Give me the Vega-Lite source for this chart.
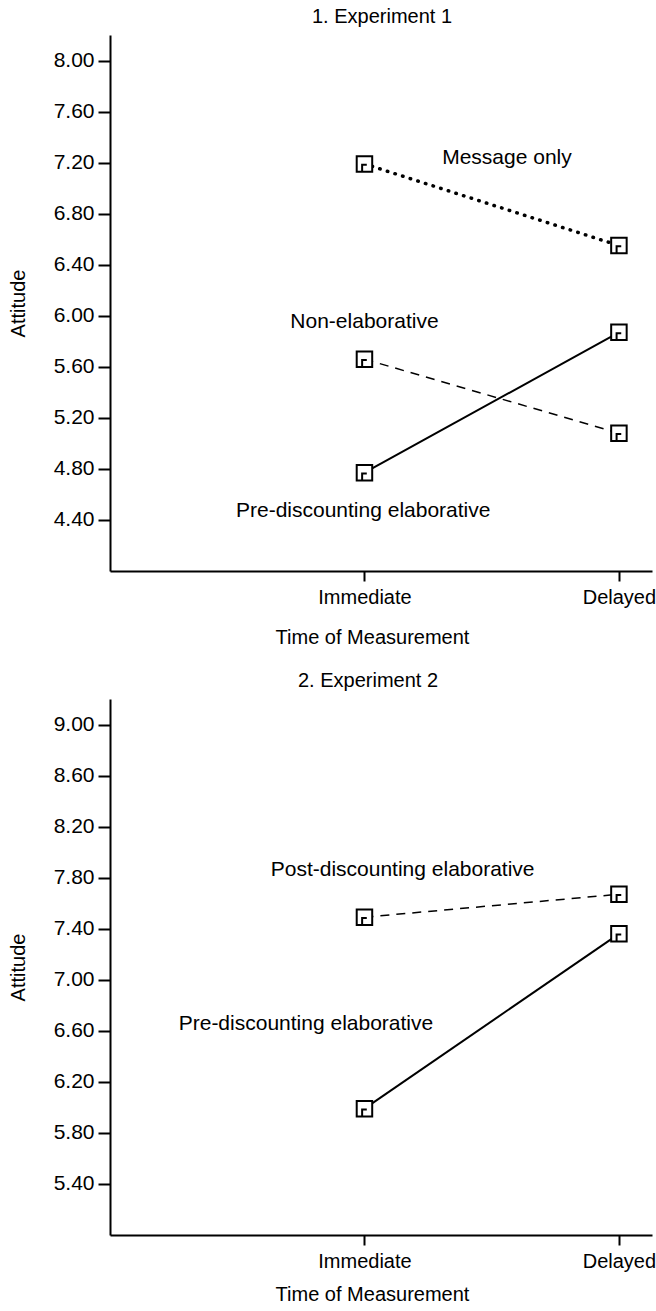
{
  "$schema": "https://vega.github.io/schema/vega-lite/v6.json",
  "background": "white",
  "padding": {"left": 8, "top": 7, "right": 0, "bottom": 0},
  "spacing": 24,
  "config": {
    "font": "Liberation Sans",
    "view": {"stroke": null},
    "axis": {
      "domainColor": "black", "domainWidth": 2, "tickColor": "black", "tickWidth": 2,
      "labelColor": "black", "titleColor": "black", "labelFontSize": 21, "titleFontSize": 20,
      "titleFontWeight": "normal", "grid": false, "labelFont": "Liberation Sans", "titleFont": "Liberation Sans"
    },
    "title": {"fontSize": 20, "fontWeight": "normal", "anchor": "start", "frame": "group", "color": "black", "font": "Liberation Sans", "offset": 8}
  },
  "datasets": {
    "points": [
      {"panel": 1, "condition": "Message only", "time": 1, "attitude": 7.19},
      {"panel": 1, "condition": "Message only", "time": 2, "attitude": 6.55},
      {"panel": 1, "condition": "Non-elaborative", "time": 1, "attitude": 5.66},
      {"panel": 1, "condition": "Non-elaborative", "time": 2, "attitude": 5.08},
      {"panel": 1, "condition": "Pre-discounting elaborative", "time": 1, "attitude": 4.77},
      {"panel": 1, "condition": "Pre-discounting elaborative", "time": 2, "attitude": 5.87},
      {"panel": 2, "condition": "Post-discounting elaborative", "time": 1, "attitude": 7.49},
      {"panel": 2, "condition": "Post-discounting elaborative", "time": 2, "attitude": 7.67},
      {"panel": 2, "condition": "Pre-discounting elaborative", "time": 1, "attitude": 5.99},
      {"panel": 2, "condition": "Pre-discounting elaborative", "time": 2, "attitude": 7.36}
    ],
    "labels": [
      {"panel": 1, "label": "Message only", "lx": 1.56, "ly": 7.24},
      {"panel": 1, "label": "Non-elaborative", "lx": 1.0, "ly": 5.95},
      {"panel": 1, "label": "Pre-discounting elaborative", "lx": 0.995, "ly": 4.47},
      {"panel": 2, "label": "Post-discounting elaborative", "lx": 1.15, "ly": 7.86},
      {"panel": 2, "label": "Pre-discounting elaborative", "lx": 0.77, "ly": 6.65}
    ]
  },
  "vconcat": [
    {
      "width": 542,
      "height": 536,
      "title": {"text": "1. Experiment 1", "dx": 202},
      "encoding": {
        "x": {"field": "time", "type": "quantitative",
              "scale": {"domain": [0, 2.13], "nice": false, "zero": false},
              "axis": {"values": [1, 2], "labelExpr": "datum.value == 1 ? 'Immediate' : 'Delayed'",
                       "labelFontSize": 20, "tickSize": 10, "labelPadding": 6, "labelFlush": false,
                       "title": "Time of Measurement", "titlePadding": 20, "titleX": 262}},
        "y": {"field": "attitude", "type": "quantitative",
              "scale": {"domain": [4, 8.2], "nice": false, "zero": false},
              "axis": {"values": [4.4, 4.8, 5.2, 5.6, 6.0, 6.4, 6.8, 7.2, 7.6, 8.0], "format": ".2f",
                       "tickSize": 12, "labelPadding": 4, "title": "Attitude", "titlePadding": 25}}
      },
      "layer": [
        {"data": {"name": "points"},
         "transform": [{"filter": "datum.panel == 1 && datum.condition == 'Message only'"}],
         "mark": {"type": "line", "color": "black", "strokeWidth": 3.5, "strokeCap": "round", "strokeDash": [0.5, 7.5]}},
        {"data": {"name": "points"},
         "transform": [{"filter": "datum.panel == 1 && datum.condition == 'Non-elaborative'"}],
         "mark": {"type": "line", "color": "black", "strokeWidth": 1.5, "strokeDash": [9, 7]}},
        {"data": {"name": "points"},
         "transform": [{"filter": "datum.panel == 1 && datum.condition == 'Pre-discounting elaborative'"}],
         "mark": {"type": "line", "color": "black", "strokeWidth": 2}},
        {"data": {"name": "points"},
         "transform": [{"filter": "datum.panel == 1"}],
         "mark": {"type": "point", "filled": true, "fill": "white", "stroke": "black", "strokeWidth": 2, "opacity": 1, "size": 240,
                  "shape": "M-1,-1H1V1H-1Z M-0.3,1V0.1H0.3"}},
        {"data": {"name": "labels"},
         "transform": [{"filter": "datum.panel == 1"}],
         "mark": {"type": "text", "fontSize": 21, "color": "black", "align": "center", "baseline": "middle"},
         "encoding": {
           "x": {"field": "lx", "type": "quantitative", "scale": {"domain": [0, 2.13], "nice": false, "zero": false}, "title": "Time of Measurement"},
           "y": {"field": "ly", "type": "quantitative", "scale": {"domain": [4, 8.2], "nice": false, "zero": false}, "title": "Attitude"},
           "text": {"field": "label"}
         }}
      ]
    },
    {
      "width": 542,
      "height": 536,
      "title": {"text": "2. Experiment 2", "dx": 188},
      "encoding": {
        "x": {"field": "time", "type": "quantitative",
              "scale": {"domain": [0, 2.13], "nice": false, "zero": false},
              "axis": {"values": [1, 2], "labelExpr": "datum.value == 1 ? 'Immediate' : 'Delayed'",
                       "labelFontSize": 20, "tickSize": 10, "labelPadding": 6, "labelFlush": false,
                       "title": "Time of Measurement", "titlePadding": 13, "titleX": 262}},
        "y": {"field": "attitude", "type": "quantitative",
              "scale": {"domain": [5, 9.2], "nice": false, "zero": false},
              "axis": {"values": [5.4, 5.8, 6.2, 6.6, 7.0, 7.4, 7.8, 8.2, 8.6, 9.0], "format": ".2f",
                       "tickSize": 12, "labelPadding": 4, "title": "Attitude", "titlePadding": 25}}
      },
      "layer": [
        {"data": {"name": "points"},
         "transform": [{"filter": "datum.panel == 2 && datum.condition == 'Post-discounting elaborative'"}],
         "mark": {"type": "line", "color": "black", "strokeWidth": 1.5, "strokeDash": [9, 7]}},
        {"data": {"name": "points"},
         "transform": [{"filter": "datum.panel == 2 && datum.condition == 'Pre-discounting elaborative'"}],
         "mark": {"type": "line", "color": "black", "strokeWidth": 2}},
        {"data": {"name": "points"},
         "transform": [{"filter": "datum.panel == 2"}],
         "mark": {"type": "point", "filled": true, "fill": "white", "stroke": "black", "strokeWidth": 2, "opacity": 1, "size": 240,
                  "shape": "M-1,-1H1V1H-1Z M-0.3,1V0.1H0.3"}},
        {"data": {"name": "labels"},
         "transform": [{"filter": "datum.panel == 2"}],
         "mark": {"type": "text", "fontSize": 21, "color": "black", "align": "center", "baseline": "middle"},
         "encoding": {
           "x": {"field": "lx", "type": "quantitative", "scale": {"domain": [0, 2.13], "nice": false, "zero": false}, "title": "Time of Measurement"},
           "y": {"field": "ly", "type": "quantitative", "scale": {"domain": [5, 9.2], "nice": false, "zero": false}, "title": "Attitude"},
           "text": {"field": "label"}
         }}
      ]
    }
  ]
}
